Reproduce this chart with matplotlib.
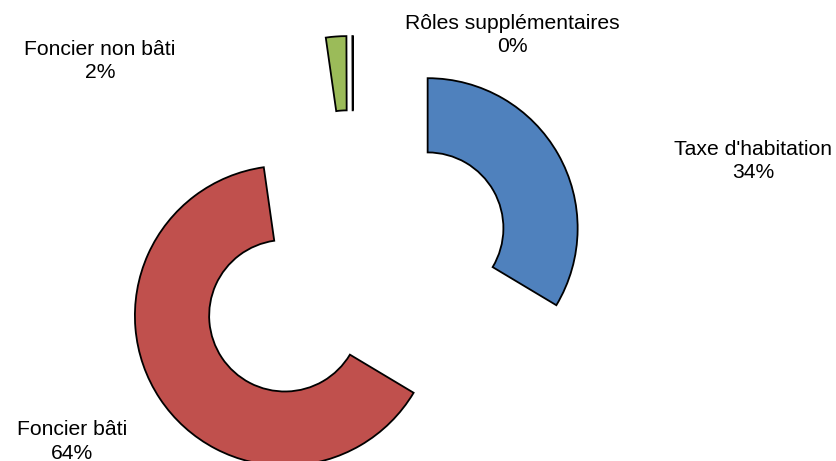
import matplotlib
matplotlib.use("Agg")
from matplotlib import pyplot as plt

# Data (share of each tax in %)
categories = ["Taxe d'habitation", "Foncier bâti", "Foncier non bâti", "Rôles supplémentaires"]
values = [33.6, 64.2, 2.2, 0.05]
colors = ["#4F81BD", "#C0504D", "#9BBB59", "#000000"]
explode = [0.572, 0.545, 0.564, 0.563]

# label anchors in pixels (x centre, baseline of the percentage line)
label_pos = [(753, 178.5), (72, 458.5), (100, 78.5), (512, 52.5)]

W, H = 836, 461
R = 150.0            # outer radius in pixels
cx, cy = 353, 270.5  # pie centre in pixels (y from top)

fig = plt.figure(figsize=(W / 100, H / 100), dpi=100)
ax = fig.add_axes([0, 0, 1, 1])

ax.pie(values, colors=colors, explode=explode, startangle=90, counterclock=False,
       radius=1.0, wedgeprops=dict(width=0.495, edgecolor="black", linewidth=1.3))

# map the axes so that one data unit = outer radius and the centre sits at (cx, cy)
ax.set_xlim(-cx / R, (W - cx) / R)
ax.set_ylim(-(H - cy) / R, cy / R)
ax.set_aspect("equal")
ax.axis("off")

total = sum(values)
for name, v, (px, py) in zip(categories, values, label_pos):
    fig.text(px / W, 1 - py / H, "%s\n%d%%" % (name, round(v / total * 100)),
             ha="center", va="baseline", fontsize=15.2, family="Liberation Sans",
             linespacing=1.33, color="black")

fig.savefig("out.png", dpi=100)
